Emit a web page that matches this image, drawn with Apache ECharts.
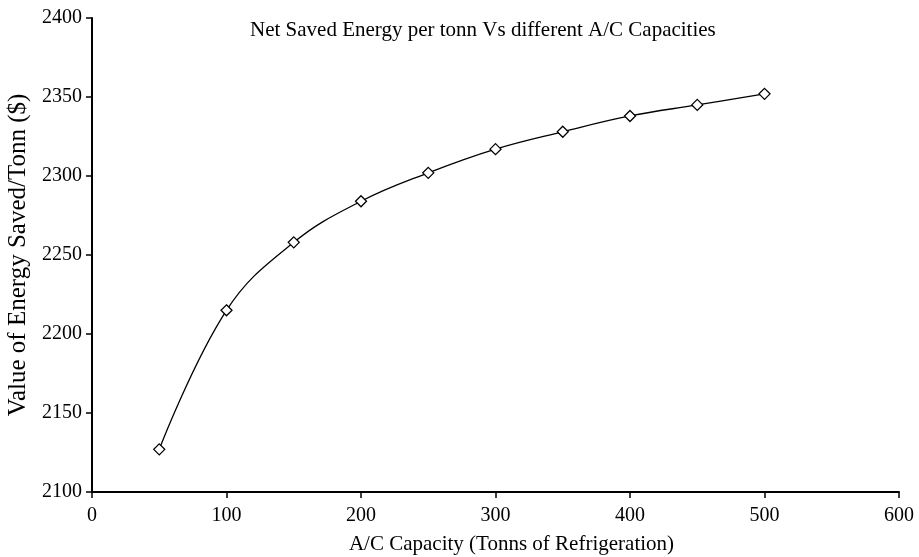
<!DOCTYPE html>
<html>
<head>
<meta charset="utf-8">
<script src="https://cdn.jsdelivr.net/npm/echarts@6/dist/echarts.min.js"></script>
<style>html,body{margin:0;padding:0;background:#fff}#c{width:919px;height:557px}</style>
</head>
<body>
<div id="c"></div>
<script>
const capacities = [50, 100, 150, 200, 250, 300, 350, 400, 450, 500];
const savedValue = [2127, 2215, 2258, 2284, 2302, 2317, 2328, 2338, 2345, 2352];
const titleText = 'Net Saved Energy per tonn Vs different A/C Capacities';
const xName = 'A/C Capacity (Tonns of Refrigeration)';
const yName = 'Value of Energy Saved/Tonn ($)';

const font = 'Liberation Serif, Times New Roman, serif';
const chart = echarts.init(document.getElementById('c'));
chart.setOption({
  backgroundColor: '#fff',
  animation: false,
  title: {
    text: titleText, left: 245, top: 15,
    textStyle: { fontFamily: font, fontSize: 21, fontWeight: 'normal', color: '#000' }
  },
  grid: { left: 92, right: 20, top: 18, bottom: 65, outerBoundsMode: 'none', containLabel: false },
  xAxis: {
    type: 'value', min: 0, max: 600, interval: 100,
    name: xName, nameLocation: 'middle', nameGap: 42,
    nameTextStyle: { fontFamily: font, fontSize: 21, color: '#000', padding: [0, 0, 0, 32] },
    axisLine: { lineStyle: { color: '#000', width: 2 } },
    axisTick: { length: 6, lineStyle: { color: '#000', width: 1.5 } },
    axisLabel: { fontFamily: font, fontSize: 20, color: '#000', margin: 14 },
    splitLine: { show: false }
  },
  yAxis: {
    type: 'value', min: 2100, max: 2400, interval: 50,
    name: yName, nameLocation: 'middle', nameGap: 58,
    nameTextStyle: { fontFamily: font, fontSize: 25, color: '#000' },
    axisLine: { show: true, lineStyle: { color: '#000', width: 2 } },
    axisTick: { show: true, length: 6, lineStyle: { color: '#000', width: 1.5 } },
    axisLabel: { fontFamily: font, fontSize: 20, color: '#000', margin: 10, formatter: v => String(v) },
    splitLine: { show: false }
  },
  series: [{
    type: 'line',
    data: capacities.map((c, i) => [c, savedValue[i]]),
    smooth: 0.4,
    symbol: 'diamond', symbolSize: 11,
    showAllSymbol: true,
    lineStyle: { color: '#000', width: 1.3 },
    itemStyle: { color: '#fff', borderColor: '#000', borderWidth: 1.3 }
  }]
});
</script>
</body>
</html>
